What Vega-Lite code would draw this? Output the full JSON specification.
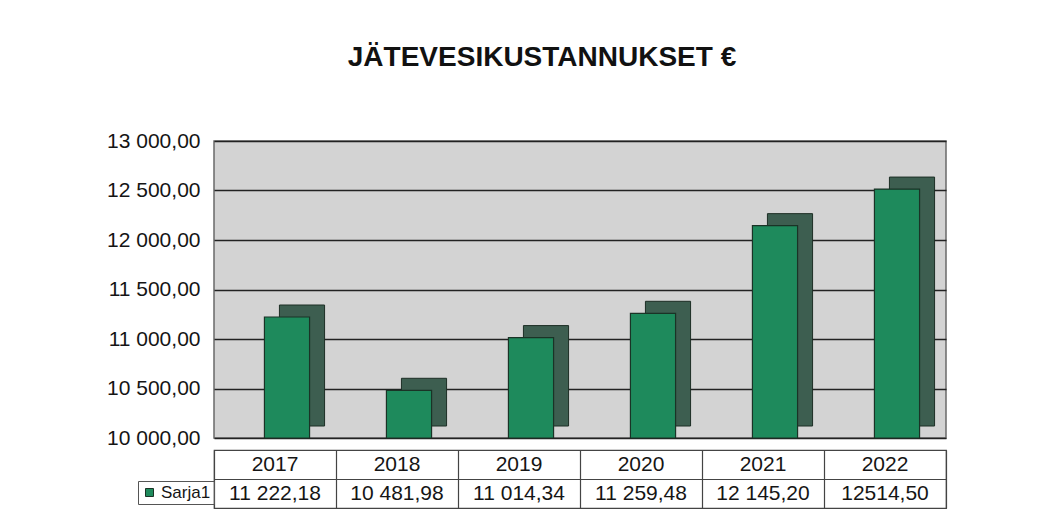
{
  "$schema": "https://vega.github.io/schema/vega-lite/v6.json",
  "padding": {"left": 105, "top": 44, "right": 5, "bottom": 5},
  "background": "white",
  "title": {
    "text": "JÄTEVESIKUSTANNUKSET €",
    "anchor": "middle",
    "frame": "group",
    "font": "Liberation Sans",
    "fontSize": 28,
    "fontWeight": "bold",
    "color": "#111111",
    "offset": 57,
    "dx": -38
  },
  "config": {
    "font": "Liberation Sans",
    "locale": {"number": {"decimal": ",", "thousands": " ", "grouping": [3], "currency": ["", " €"]}}
  },
  "data": {
    "values": [
      {"vuosi": "2017", "sarja": "Sarja1", "arvo": 11222.18, "teksti": "11 222,18"},
      {"vuosi": "2018", "sarja": "Sarja1", "arvo": 10481.98, "teksti": "10 481,98"},
      {"vuosi": "2019", "sarja": "Sarja1", "arvo": 11014.34, "teksti": "11 014,34"},
      {"vuosi": "2020", "sarja": "Sarja1", "arvo": 11259.48, "teksti": "11 259,48"},
      {"vuosi": "2021", "sarja": "Sarja1", "arvo": 12145.20, "teksti": "12 145,20"},
      {"vuosi": "2022", "sarja": "Sarja1", "arvo": 12514.50, "teksti": "12514,50"}
    ]
  },
  "spacing": 0,
  "vconcat": [
    {
      "width": 732,
      "height": 297,
      "view": {"fill": "#d3d3d3", "stroke": "#6a6a6a", "strokeWidth": 1.5},
      "encoding": {
        "x": {"field": "vuosi", "type": "nominal", "scale": {"paddingInner": 0, "paddingOuter": 0}, "axis": null},
        "y": {
          "field": "arvo", "type": "quantitative",
          "scale": {"domain": [10000, 13000], "zero": false, "nice": false},
          "axis": {
            "title": null,
            "values": [10000, 10500, 11000, 11500, 12000, 12500, 13000],
            "format": ",.2f",
            "labelFontSize": 21,
            "labelColor": "#151515",
            "labelPadding": 14,
            "ticks": false,
            "domain": false,
            "grid": true,
            "gridColor": "#222222",
            "gridWidth": 1.6
          }
        },
        "y2": {"datum": 10000}
      },
      "layer": [
        {
          "mark": {"type": "bar", "width": {"band": 0.37}, "xOffset": 27, "yOffset": -12, "y2Offset": -12, "color": "#3d5e50", "stroke": "#1d2e25", "strokeWidth": 1}
        },
        {
          "mark": {"type": "bar", "width": {"band": 0.37}, "xOffset": 12, "stroke": "#1a3326", "strokeWidth": 1.2},
          "encoding": {
            "color": {
              "field": "sarja", "type": "nominal",
              "scale": {"range": ["#1e8a5c"]},
              "legend": {
                "title": null,
                "orient": "none",
                "legendX": -76,
                "legendY": 340,
                "symbolType": "square",
                "symbolSize": 64,
                "symbolStrokeColor": "#1a3326",
                "symbolStrokeWidth": 1,
                "labelFontSize": 17,
                "labelColor": "#151515",
                "labelOffset": 3,
                "padding": 3,
                "strokeColor": "#555555"
              }
            }
          }
        }
      ]
    },
    {
      "width": 732,
      "height": 58,
      "view": {"stroke": "#444444", "strokeWidth": 1.2},
      "encoding": {
        "x": {
          "field": "vuosi", "type": "nominal",
          "scale": {"paddingInner": 0, "paddingOuter": 0},
          "axis": {"title": null, "labels": false, "ticks": false, "domain": false, "grid": true, "tickBand": "extent", "gridColor": "#444444", "gridWidth": 1.2}
        }
      },
      "layer": [
        {
          "mark": {"type": "text", "fontSize": 21, "color": "#151515", "baseline": "middle"},
          "encoding": {
            "y": {
              "datum": "Vuosi", "type": "nominal",
              "scale": {"domain": ["Vuosi", "Sarja1"], "paddingInner": 0, "paddingOuter": 0},
              "axis": {"title": null, "labels": false, "ticks": false, "domain": false, "grid": true, "tickBand": "extent", "gridColor": "#444444", "gridWidth": 1.2}
            },
            "text": {"field": "vuosi"}
          }
        },
        {
          "mark": {"type": "text", "fontSize": 21, "color": "#151515", "baseline": "middle"},
          "encoding": {
            "y": {"datum": "Sarja1", "type": "nominal"},
            "text": {"field": "teksti"}
          }
        }
      ]
    }
  ]
}
